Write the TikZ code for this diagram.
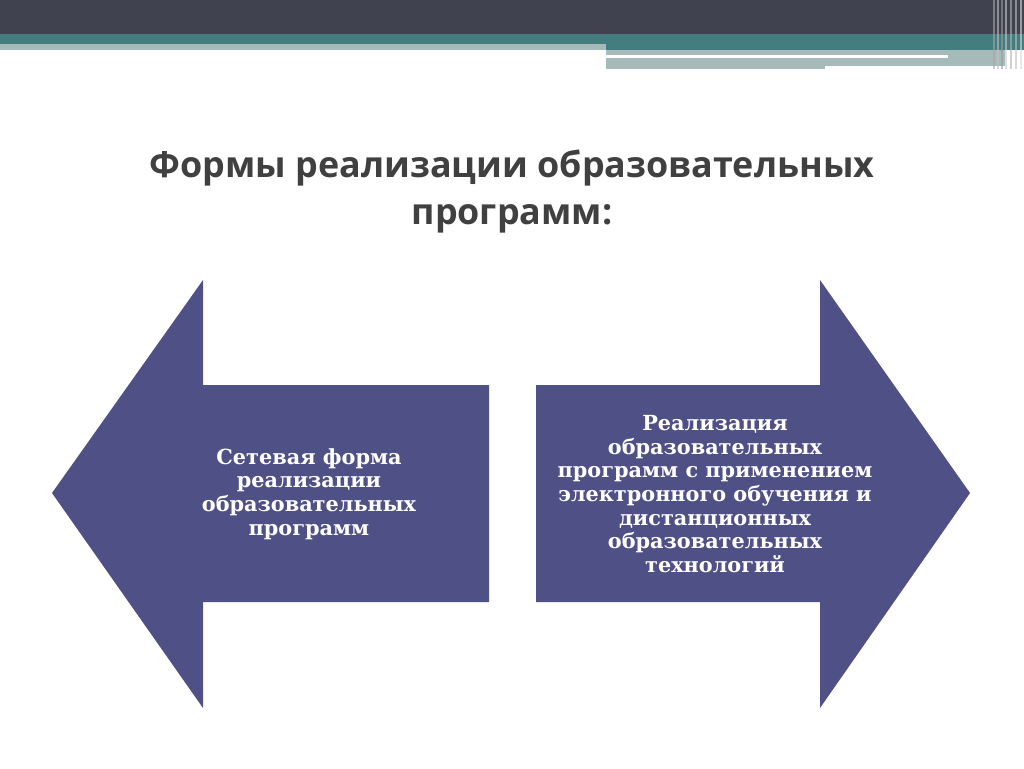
\documentclass[tikz,border=0pt]{standalone}
\usepackage{fontspec}
\setmainfont{DejaVu Serif}
\newfontfamily\titlefont{Open Sans}
\definecolor{hdark}{HTML}{41424F}
\definecolor{hteal}{HTML}{447D80}
\definecolor{hlight}{HTML}{A6BABA}
\definecolor{arrowc}{HTML}{4F5086}
\definecolor{titlec}{HTML}{404040}
\tikzset{
  arrowshape/.style={fill=arrowc, draw=none},
  arrowtext/.style={text=white, font=\fontsize{20.8}{23.6}\selectfont\bfseries, align=center},
  titletext/.style={text=titlec, font=\titlefont\fontsize{35.9}{47}\selectfont\bfseries, align=center}
}
\begin{document}
\begin{tikzpicture}[x=1pt,y=-1pt]
\useasboundingbox (0,0) rectangle (1024,768);
\fill[white] (0,0) rectangle (1024,768);
% header
\fill[hdark] (0,0) rectangle (1024,34);
\fill[hteal] (0,34) rectangle (1024,44);
\fill[hlight] (0,44) rectangle (606,50);
\fill[hteal] (606,44) rectangle (1024,50);
\fill[hlight] (606,50) rectangle (1005,66);
\fill[white] (606,55) rectangle (948,58);
\fill[hlight] (606,58) rectangle (825,69);
\fill[white] (825,66) rectangle (1005,69);
\foreach \x/\c in {993/gray!70,997/gray!50,1001/gray!80,1005/gray!40,1010/gray!60,1015/gray!50,1020/gray!30}
  \fill[\c, opacity=0.6] (\x,0) rectangle (\x+2,69);
% title
\node[titletext] (title) at (512,192) {Формы реализации образовательных\\программ:};
% left arrow
\fill[arrowshape] (52,493) coordinate (ltip) -- (203,280) -- (203,385) -- (489,385) -- (489,602) -- (203,602) -- (203,708) -- cycle;
\node[arrowtext] (ltext) at (309,494) {Сетевая форма\\реализации\\образовательных\\программ};
% right arrow
\fill[arrowshape] (970,493) coordinate (rtip) -- (820,280) -- (820,385) -- (536,385) -- (536,602) -- (820,602) -- (820,708) -- cycle;
\node[arrowtext] (rtext) at (715,494) {Реализация\\образовательных\\программ с применением\\электронного обучения и\\дистанционных\\образовательных\\технологий};
\end{tikzpicture}
\end{document}
